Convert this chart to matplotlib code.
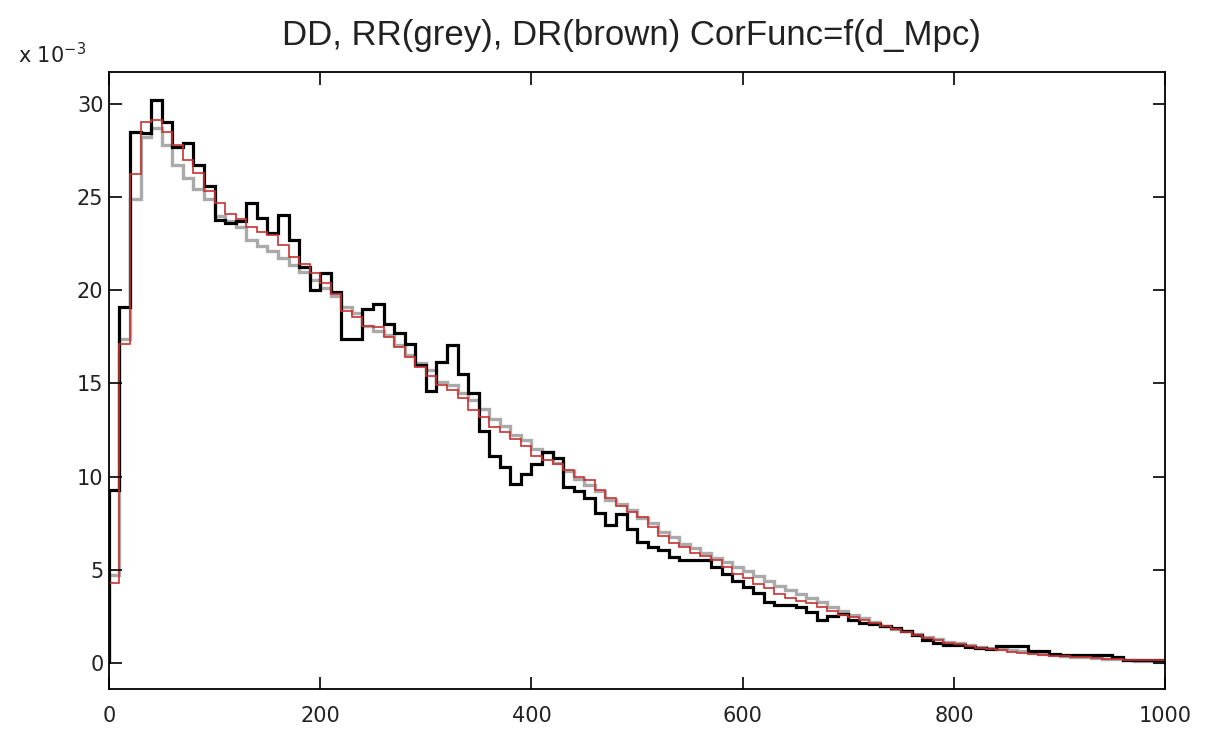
import numpy as np
import matplotlib
matplotlib.use("Agg")
import matplotlib.pyplot as plt

# bin edges: 100 bins of 10 Mpc from 0 to 1000
edges = np.linspace(0, 1000, 101)

# values in units of 1e-3
dd = [9.3, 19.1, 28.5, 28.4, 30.2, 29.0, 27.7, 27.9, 26.7, 25.6,
      23.75, 23.6, 23.7, 24.65, 23.85, 23.05, 24.05, 22.7, 21.25, 20.0,
      20.9, 19.9, 17.4, 17.4, 19.0, 19.25, 18.2, 17.7, 17.1, 16.0,
      14.6, 16.15, 17.05, 15.5, 14.5, 12.45, 11.1, 10.5, 9.6, 10.15,
      10.65, 11.3, 11.0, 9.45, 9.2, 8.85, 8.05, 7.4, 8.0, 7.2,
      6.5, 6.25, 6.05, 5.7, 5.5, 5.5, 5.5, 5.15, 4.8, 4.4,
      4.1, 3.75, 3.3, 3.1, 3.1, 3.0, 2.75, 2.3, 2.55, 2.65,
      2.3, 2.15, 2.1, 2.0, 1.86, 1.7, 1.5, 1.23, 1.09, 0.97,
      0.97, 0.87, 0.8, 0.75, 0.93, 0.93, 0.93, 0.66, 0.66, 0.5,
      0.42, 0.42, 0.42, 0.42, 0.42, 0.3, 0.18, 0.18, 0.18, 0.18]

rr = [4.7, 17.4, 24.9, 28.2, 28.7, 27.8, 26.7, 26.0, 25.4, 24.9,
      24.0, 23.7, 23.4, 22.7, 22.35, 22.1, 21.7, 21.35, 20.95, 20.55,
      20.1, 19.7, 19.1, 18.75, 18.1, 17.8, 17.6, 17.05, 16.5, 16.07,
      15.7, 15.09, 14.9, 14.46, 14.1, 13.65, 13.1, 12.7, 12.25, 11.96,
      11.5, 11.3, 10.75, 10.3, 9.85, 9.55, 9.2, 8.75, 8.55, 8.2,
      7.8, 7.5, 7.05, 6.75, 6.4, 6.15, 5.9, 5.65, 5.4, 5.15,
      4.95, 4.65, 4.4, 4.15, 3.9, 3.7, 3.5, 3.25, 3.0, 2.8,
      2.6, 2.4, 2.2, 2.0, 1.85, 1.7, 1.55, 1.4, 1.28, 1.15,
      1.05, 0.95, 0.88, 0.8, 0.75, 0.68, 0.62, 0.55, 0.5, 0.45,
      0.4, 0.35, 0.32, 0.28, 0.24, 0.2, 0.15, 0.12, 0.1, 0.08]

dr = [4.3, 17.1, 26.2, 29.0, 29.1, 28.5, 27.8, 27.0, 26.3, 25.3,
      24.65, 24.1, 23.8, 23.4, 23.1, 22.95, 22.4, 21.8, 21.4, 20.9,
      20.36, 19.8, 18.9, 18.57, 18.1, 18.0, 17.5, 16.96, 16.4, 15.9,
      15.4, 14.9, 14.64, 14.2, 13.56, 13.2, 12.67, 12.4, 12.0, 11.65,
      11.1, 10.9, 10.65, 10.35, 10.0, 9.8, 9.27, 8.83, 8.4, 8.1,
      7.85, 7.3, 6.8, 6.45, 6.25, 5.9, 5.75, 5.5, 5.15, 4.8,
      4.55, 4.25, 4.0, 3.7, 3.5, 3.35, 3.2, 3.0, 2.8, 2.6,
      2.45, 2.3, 2.15, 2.0, 1.8, 1.65, 1.5, 1.35, 1.22, 1.1,
      1.0, 0.9, 0.82, 0.75, 0.68, 0.6, 0.55, 0.5, 0.45, 0.4,
      0.36, 0.33, 0.3, 0.27, 0.24, 0.2, 0.17, 0.15, 0.15, 0.15]

x_ticks = [0, 200, 400, 600, 800, 1000]
y_ticks = [0, 5, 10, 15, 20, 25, 30]

fig = plt.figure(figsize=(12.24, 7.30), dpi=100)
ax = fig.add_axes([0.089, 0.0562, 0.863, 0.845])

ax.stairs(rr, edges, baseline=0, color="#aaaaaa", linewidth=2.4)
ax.stairs(dd, edges, baseline=0, color="black", linewidth=2.3)
ax.stairs(dr, edges, baseline=0, color="#c83232", linewidth=1.2)

ax.set_xlim(0, 1000)
ax.set_ylim(-1.39, 31.69)
ax.set_xticks(x_ticks)
ax.set_yticks(y_ticks)
ax.tick_params(direction="in", length=9, width=1.2, top=True, right=True,
               labelsize=15, colors="black", labelcolor="#222222")
ax.tick_params(axis="x", pad=12)
ax.tick_params(axis="y", pad=4)
for spine in ax.spines.values():
    spine.set_linewidth(1.3)

fig.text(0.516, 1 - 35 / 730, "DD, RR(grey), DR(brown) CorFunc=f(d_Mpc)",
         fontsize=25, family="Liberation Sans", color="#222222",
         ha="center", va="center")
fig.text(0.015, 1 - 55 / 730, r"x 10$^{-3}$", fontsize=15, color="#222222",
         va="center")

fig.savefig("out.png", dpi=100)
